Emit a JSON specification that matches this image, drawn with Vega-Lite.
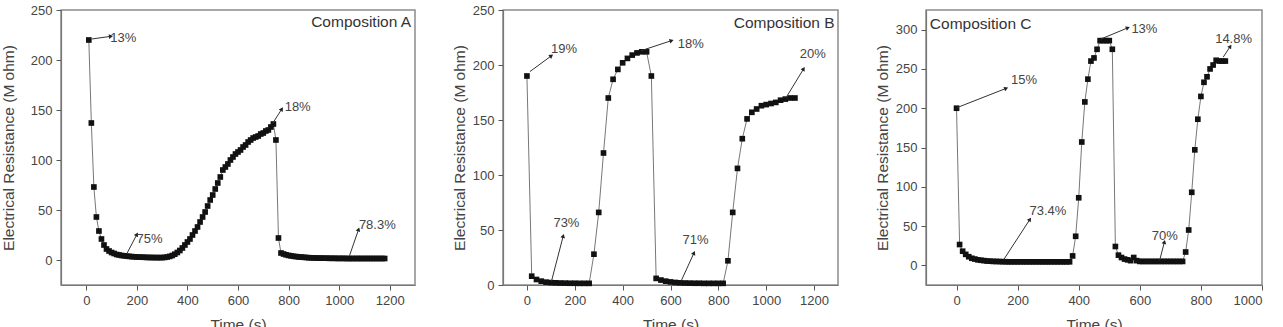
{
  "$schema": "https://vega.github.io/schema/vega-lite/v6.json",
  "padding": {"left": 0, "top": 3, "right": 0, "bottom": 0},
  "bounds": "flush",
  "spacing": 88,
  "config": {
    "font": "Liberation Sans",
    "view": {"stroke": "#8c8c8c", "strokeWidth": 1.5},
    "axis": {"domainColor": "#777", "domainWidth": 1.2, "tickColor": "#555", "tickWidth": 1, "labelColor": "#444", "titleColor": "#444", "labelFontSize": 13, "titleFontSize": 15.5, "titleFontWeight": "normal", "grid": false, "labelPadding": 4, "labelOverlap": false, "format": "d"}
  },
  "datasets": {
    "series": [
      {"p":"A","t":10,"r":220},{"p":"A","t":20,"r":137},{"p":"A","t":30,"r":73},{"p":"A","t":40,"r":43},{"p":"A","t":50,"r":29},{"p":"A","t":60,"r":21},{"p":"A","t":70,"r":15},{"p":"A","t":80,"r":11},{"p":"A","t":90,"r":9},{"p":"A","t":100,"r":7.5},
      {"p":"A","t":110,"r":6.5},{"p":"A","t":120,"r":5.5},{"p":"A","t":130,"r":5},{"p":"A","t":140,"r":4.5},{"p":"A","t":150,"r":4.2},{"p":"A","t":160,"r":3.9},{"p":"A","t":170,"r":3.6},{"p":"A","t":180,"r":3.4},{"p":"A","t":190,"r":3.2},{"p":"A","t":200,"r":3},
      {"p":"A","t":210,"r":2.9},{"p":"A","t":220,"r":2.8},{"p":"A","t":230,"r":2.7},{"p":"A","t":240,"r":2.6},{"p":"A","t":250,"r":2.5},{"p":"A","t":260,"r":2.5},{"p":"A","t":270,"r":2.4},{"p":"A","t":280,"r":2.4},{"p":"A","t":290,"r":2.4},{"p":"A","t":300,"r":2.4},
      {"p":"A","t":310,"r":2.6},{"p":"A","t":320,"r":3},{"p":"A","t":330,"r":3.6},{"p":"A","t":340,"r":4.5},{"p":"A","t":350,"r":5.8},{"p":"A","t":360,"r":7.5},{"p":"A","t":370,"r":9.5},{"p":"A","t":380,"r":12},{"p":"A","t":390,"r":15},{"p":"A","t":400,"r":18},
      {"p":"A","t":410,"r":21},{"p":"A","t":420,"r":25},{"p":"A","t":430,"r":29},{"p":"A","t":440,"r":33},{"p":"A","t":450,"r":38},{"p":"A","t":460,"r":43},{"p":"A","t":470,"r":48},{"p":"A","t":480,"r":54},{"p":"A","t":490,"r":60},{"p":"A","t":500,"r":65},
      {"p":"A","t":510,"r":71},{"p":"A","t":520,"r":77},{"p":"A","t":530,"r":83},{"p":"A","t":540,"r":90},{"p":"A","t":550,"r":93},{"p":"A","t":560,"r":96},{"p":"A","t":570,"r":100},{"p":"A","t":580,"r":103},{"p":"A","t":590,"r":106},{"p":"A","t":600,"r":108},
      {"p":"A","t":610,"r":110},{"p":"A","t":620,"r":113},{"p":"A","t":630,"r":115},{"p":"A","t":640,"r":118},{"p":"A","t":650,"r":120},{"p":"A","t":660,"r":122},{"p":"A","t":670,"r":123},{"p":"A","t":680,"r":124},{"p":"A","t":690,"r":126},{"p":"A","t":700,"r":127},
      {"p":"A","t":710,"r":129},{"p":"A","t":720,"r":130},{"p":"A","t":730,"r":133},{"p":"A","t":740,"r":136},{"p":"A","t":750,"r":120},{"p":"A","t":760,"r":22},{"p":"A","t":770,"r":7},{"p":"A","t":780,"r":6},{"p":"A","t":790,"r":5.2},{"p":"A","t":800,"r":4.6},
      {"p":"A","t":810,"r":4.1},{"p":"A","t":820,"r":3.7},{"p":"A","t":830,"r":3.4},{"p":"A","t":840,"r":3.1},{"p":"A","t":850,"r":2.9},{"p":"A","t":860,"r":2.7},{"p":"A","t":870,"r":2.5},{"p":"A","t":880,"r":2.3},{"p":"A","t":890,"r":2.2},{"p":"A","t":900,"r":2.1},
      {"p":"A","t":910,"r":2},{"p":"A","t":920,"r":1.9},{"p":"A","t":930,"r":1.9},{"p":"A","t":940,"r":1.8},{"p":"A","t":950,"r":1.8},{"p":"A","t":960,"r":1.7},{"p":"A","t":970,"r":1.7},{"p":"A","t":980,"r":1.7},{"p":"A","t":990,"r":1.6},{"p":"A","t":1000,"r":1.6},
      {"p":"A","t":1010,"r":1.6},{"p":"A","t":1020,"r":1.6},{"p":"A","t":1030,"r":1.5},{"p":"A","t":1040,"r":1.5},{"p":"A","t":1050,"r":1.5},{"p":"A","t":1060,"r":1.5},{"p":"A","t":1070,"r":1.5},{"p":"A","t":1080,"r":1.5},{"p":"A","t":1090,"r":1.5},{"p":"A","t":1100,"r":1.5},
      {"p":"A","t":1110,"r":1.5},{"p":"A","t":1120,"r":1.5},{"p":"A","t":1130,"r":1.5},{"p":"A","t":1140,"r":1.5},{"p":"A","t":1150,"r":1.5},{"p":"A","t":1160,"r":1.5},{"p":"A","t":1170,"r":1.5},{"p":"A","t":1180,"r":1.5},

      {"p":"B","t":0,"r":190},{"p":"B","t":20,"r":8},{"p":"B","t":40,"r":5},{"p":"B","t":60,"r":3.5},{"p":"B","t":80,"r":2.6},{"p":"B","t":100,"r":2.2},{"p":"B","t":120,"r":2},{"p":"B","t":140,"r":1.8},{"p":"B","t":160,"r":1.7},{"p":"B","t":180,"r":1.6},
      {"p":"B","t":200,"r":1.6},{"p":"B","t":220,"r":1.5},{"p":"B","t":240,"r":1.5},{"p":"B","t":260,"r":1.5},{"p":"B","t":280,"r":28},{"p":"B","t":300,"r":66},{"p":"B","t":320,"r":120},{"p":"B","t":340,"r":170},{"p":"B","t":360,"r":187},{"p":"B","t":380,"r":196},
      {"p":"B","t":400,"r":202},{"p":"B","t":420,"r":206},{"p":"B","t":440,"r":209},{"p":"B","t":460,"r":211},{"p":"B","t":480,"r":212},{"p":"B","t":500,"r":212},{"p":"B","t":520,"r":190},{"p":"B","t":540,"r":6},{"p":"B","t":560,"r":4.5},{"p":"B","t":580,"r":3.5},
      {"p":"B","t":600,"r":2.8},{"p":"B","t":620,"r":2.3},{"p":"B","t":640,"r":2},{"p":"B","t":660,"r":1.8},{"p":"B","t":680,"r":1.7},{"p":"B","t":700,"r":1.6},{"p":"B","t":720,"r":1.6},{"p":"B","t":740,"r":1.5},{"p":"B","t":760,"r":1.5},{"p":"B","t":780,"r":1.5},
      {"p":"B","t":800,"r":1.5},{"p":"B","t":820,"r":1.5},{"p":"B","t":840,"r":22},{"p":"B","t":860,"r":66},{"p":"B","t":880,"r":106},{"p":"B","t":900,"r":133},{"p":"B","t":920,"r":151},{"p":"B","t":940,"r":157},{"p":"B","t":960,"r":160},{"p":"B","t":980,"r":163},
      {"p":"B","t":1000,"r":164},{"p":"B","t":1020,"r":165},{"p":"B","t":1040,"r":166},{"p":"B","t":1060,"r":168},{"p":"B","t":1080,"r":169},{"p":"B","t":1100,"r":170},{"p":"B","t":1120,"r":170},

      {"p":"C","t":0,"r":200},{"p":"C","t":10,"r":26.5},{"p":"C","t":20,"r":18},{"p":"C","t":30,"r":14},{"p":"C","t":40,"r":11},{"p":"C","t":50,"r":9},{"p":"C","t":60,"r":8},{"p":"C","t":70,"r":7},{"p":"C","t":80,"r":6.5},{"p":"C","t":90,"r":6},
      {"p":"C","t":100,"r":5.5},{"p":"C","t":110,"r":5.3},{"p":"C","t":120,"r":5},{"p":"C","t":130,"r":5},{"p":"C","t":140,"r":4.8},{"p":"C","t":150,"r":4.7},{"p":"C","t":160,"r":4.6},{"p":"C","t":170,"r":4.5},{"p":"C","t":180,"r":4.5},{"p":"C","t":190,"r":4.5},
      {"p":"C","t":200,"r":4.5},{"p":"C","t":210,"r":4.5},{"p":"C","t":220,"r":4.5},{"p":"C","t":230,"r":4.5},{"p":"C","t":240,"r":4.5},{"p":"C","t":250,"r":4.5},{"p":"C","t":260,"r":4.5},{"p":"C","t":270,"r":4.5},{"p":"C","t":280,"r":4.5},{"p":"C","t":290,"r":4.5},
      {"p":"C","t":300,"r":4.5},{"p":"C","t":310,"r":4.5},{"p":"C","t":320,"r":4.5},{"p":"C","t":330,"r":4.5},{"p":"C","t":340,"r":4.5},{"p":"C","t":350,"r":4.5},{"p":"C","t":360,"r":4.5},{"p":"C","t":370,"r":4.5},{"p":"C","t":380,"r":12},{"p":"C","t":390,"r":37},
      {"p":"C","t":400,"r":86},{"p":"C","t":410,"r":157},{"p":"C","t":420,"r":208},{"p":"C","t":430,"r":237},{"p":"C","t":440,"r":260},{"p":"C","t":450,"r":264},{"p":"C","t":460,"r":275},{"p":"C","t":470,"r":286},{"p":"C","t":480,"r":286},{"p":"C","t":490,"r":286},
      {"p":"C","t":500,"r":286},{"p":"C","t":510,"r":275},{"p":"C","t":520,"r":24},{"p":"C","t":530,"r":13},{"p":"C","t":540,"r":10},{"p":"C","t":550,"r":8},{"p":"C","t":560,"r":7},{"p":"C","t":570,"r":6},{"p":"C","t":580,"r":10},{"p":"C","t":590,"r":6},
      {"p":"C","t":600,"r":5},{"p":"C","t":610,"r":5},{"p":"C","t":620,"r":5},{"p":"C","t":630,"r":5},{"p":"C","t":640,"r":5},{"p":"C","t":650,"r":5},{"p":"C","t":660,"r":5},{"p":"C","t":670,"r":5},{"p":"C","t":680,"r":5},{"p":"C","t":690,"r":5},
      {"p":"C","t":700,"r":5},{"p":"C","t":710,"r":5},{"p":"C","t":720,"r":5},{"p":"C","t":730,"r":5},{"p":"C","t":740,"r":5},{"p":"C","t":750,"r":17},{"p":"C","t":760,"r":45},{"p":"C","t":770,"r":93},{"p":"C","t":780,"r":147},{"p":"C","t":790,"r":186},
      {"p":"C","t":800,"r":215},{"p":"C","t":810,"r":233},{"p":"C","t":820,"r":240},{"p":"C","t":830,"r":250},{"p":"C","t":840,"r":255},{"p":"C","t":850,"r":261},{"p":"C","t":860,"r":260},{"p":"C","t":870,"r":260},{"p":"C","t":880,"r":260}
    ],
    "notes": [
      {"p":"A","t":22,"r":221,"t2":95,"r2":223.6,"lt":146,"lr":222.5,"label":"13%"},
      {"p":"A","t":161,"r":6.7,"t2":199,"r2":25,"lt":250,"lr":21,"label":"75%"},
      {"p":"A","t":738,"r":137,"t2":772,"r2":150.5,"lt":836,"lr":153,"label":"18%"},
      {"p":"A","t":1041,"r":4.3,"t2":1076,"r2":30,"lt":1151,"lr":35,"label":"78.3%"},
      {"p":"B","t":12.5,"r":194,"t2":100,"r2":208,"lt":155.5,"lr":214.7,"label":"19%"},
      {"p":"B","t":477,"r":213,"t2":602,"r2":222,"lt":685,"lr":219,"label":"18%"},
      {"p":"B","t":102.6,"r":3.4,"t2":151,"r2":44,"lt":165,"lr":56,"label":"73%"},
      {"p":"B","t":644,"r":3.4,"t2":697,"r2":28.6,"lt":705,"lr":40.8,"label":"71%"},
      {"p":"B","t":1082,"r":170,"t2":1155,"r2":196,"lt":1195,"lr":209.6,"label":"20%"},
      {"p":"C","t":0,"r":200.5,"t2":160.6,"r2":225,"lt":221,"lr":235.6,"label":"15%"},
      {"p":"C","t":155,"r":7.7,"t2":239,"r2":57.8,"lt":299,"lr":69.4,"label":"73.4%"},
      {"p":"C","t":472,"r":288,"t2":559,"r2":302,"lt":615,"lr":300.8,"label":"13%"},
      {"p":"C","t":665,"r":6.4,"t2":680,"r2":29,"lt":682,"lr":37.3,"label":"70%"},
      {"p":"C","t":873,"r":265,"t2":895,"r2":278,"lt":907,"lr":288,"label":"14.8%"}
    ],
    "names": [
      {"p":"A","t":1087,"r":237.7,"label":"Composition A"},
      {"p":"B","t":1075,"r":238.4,"label":"Composition B"},
      {"p":"C","t":79,"r":307.6,"label":"Composition C"}
    ]
  },
  "hconcat": [
    {
      "width": 354, "height": 275,
      "layer": [
        {"data": {"name": "series"}, "transform": [{"filter": "datum.p === 'A'"}],
         "mark": {"type": "line", "color": "#777", "strokeWidth": 1},
         "encoding": {
           "x": {"field": "t", "type": "quantitative", "title": "Time (s)", "scale": {"domain": [-100, 1300], "nice": false, "zero": false},
                 "axis": {"values": [0,100,200,300,400,500,600,700,800,900,1000,1100,1200], "labelExpr": "datum.value % 200 === 0 ? datum.label : ''", "tickSize": {"condition": {"test": "datum.value % 200 === 0", "value": 5}, "value": 3}, "titlePadding": 10}},
           "y": {"field": "r", "type": "quantitative", "title": "Electrical Resistance (M ohm)", "scale": {"domain": [-25, 250], "nice": false, "zero": false},
                 "axis": {"values": [0,25,50,75,100,125,150,175,200,225,250], "labelExpr": "datum.value % 50 === 0 ? datum.label : ''", "tickSize": {"condition": {"test": "datum.value % 50 === 0", "value": 5}, "value": 3}, "titlePadding": 14}}
         }},
        {"data": {"name": "series"}, "transform": [{"filter": "datum.p === 'A'"}],
         "mark": {"type": "point", "shape": "square", "filled": true, "color": "#111", "size": 32, "opacity": 1},
         "encoding": {
           "x": {"field": "t", "type": "quantitative", "title": "Time (s)", "scale": {"domain": [-100, 1300], "nice": false, "zero": false}},
           "y": {"field": "r", "type": "quantitative", "title": "Electrical Resistance (M ohm)", "scale": {"domain": [-25, 250], "nice": false, "zero": false}}
         }},
        {"data": {"name": "notes"}, "transform": [{"filter": "datum.p === 'A'"}],
         "mark": {"type": "rule", "color": "#333", "strokeWidth": 1},
         "encoding": {
           "x": {"field": "t", "type": "quantitative", "title": "Time (s)", "scale": {"domain": [-100, 1300], "nice": false, "zero": false}},
           "y": {"field": "r", "type": "quantitative", "title": "Electrical Resistance (M ohm)", "scale": {"domain": [-25, 250], "nice": false, "zero": false}},
           "x2": {"field": "t2"}, "y2": {"field": "r2"}
         }},
        {"data": {"name": "notes"}, "transform": [{"filter": "datum.p === 'A'"}, {"calculate": "atan2((datum.t2 - datum.t) * 0.2514, (datum.r2 - datum.r) * 0.99) * 180 / PI", "as": "ang"}],
         "mark": {"type": "point", "shape": "triangle", "filled": true, "color": "#222", "size": 22, "opacity": 1},
         "encoding": {
           "x": {"field": "t2", "type": "quantitative", "title": "Time (s)", "scale": {"domain": [-100, 1300], "nice": false, "zero": false}},
           "y": {"field": "r2", "type": "quantitative", "title": "Electrical Resistance (M ohm)", "scale": {"domain": [-25, 250], "nice": false, "zero": false}},
           "angle": {"field": "ang", "type": "quantitative", "scale": null}
         }},
        {"data": {"name": "notes"}, "transform": [{"filter": "datum.p === 'A'"}],
         "mark": {"type": "text", "fontSize": 13, "color": "#444", "baseline": "middle", "align": "center"},
         "encoding": {
           "x": {"field": "lt", "type": "quantitative", "title": "Time (s)", "scale": {"domain": [-100, 1300], "nice": false, "zero": false}},
           "y": {"field": "lr", "type": "quantitative", "title": "Electrical Resistance (M ohm)", "scale": {"domain": [-25, 250], "nice": false, "zero": false}},
           "text": {"field": "label"}
         }},
        {"data": {"name": "names"}, "transform": [{"filter": "datum.p === 'A'"}],
         "mark": {"type": "text", "fontSize": 15.5, "color": "#333", "baseline": "middle", "align": "center"},
         "encoding": {
           "x": {"field": "t", "type": "quantitative", "title": "Time (s)", "scale": {"domain": [-100, 1300], "nice": false, "zero": false}},
           "y": {"field": "r", "type": "quantitative", "title": "Electrical Resistance (M ohm)", "scale": {"domain": [-25, 250], "nice": false, "zero": false}},
           "text": {"field": "label"}
         }}
      ]
    },
    {
      "width": 335, "height": 275,
      "layer": [
        {"data": {"name": "series"}, "transform": [{"filter": "datum.p === 'B'"}],
         "mark": {"type": "line", "color": "#777", "strokeWidth": 1},
         "encoding": {
           "x": {"field": "t", "type": "quantitative", "title": "Time (s)", "scale": {"domain": [-100, 1300], "nice": false, "zero": false},
                 "axis": {"values": [0,100,200,300,400,500,600,700,800,900,1000,1100,1200], "labelExpr": "datum.value % 200 === 0 ? datum.label : ''", "tickSize": {"condition": {"test": "datum.value % 200 === 0", "value": 5}, "value": 3}, "titlePadding": 10}},
           "y": {"field": "r", "type": "quantitative", "title": "Electrical Resistance (M ohm)", "scale": {"domain": [0, 250], "nice": false, "zero": false},
                 "axis": {"values": [0,25,50,75,100,125,150,175,200,225,250], "labelExpr": "datum.value % 50 === 0 ? datum.label : ''", "tickSize": {"condition": {"test": "datum.value % 50 === 0", "value": 5}, "value": 3}, "titlePadding": 5}}
         }},
        {"data": {"name": "series"}, "transform": [{"filter": "datum.p === 'B'"}],
         "mark": {"type": "point", "shape": "square", "filled": true, "color": "#111", "size": 32, "opacity": 1},
         "encoding": {
           "x": {"field": "t", "type": "quantitative", "title": "Time (s)", "scale": {"domain": [-100, 1300], "nice": false, "zero": false}},
           "y": {"field": "r", "type": "quantitative", "title": "Electrical Resistance (M ohm)", "scale": {"domain": [0, 250], "nice": false, "zero": false}}
         }},
        {"data": {"name": "notes"}, "transform": [{"filter": "datum.p === 'B'"}],
         "mark": {"type": "rule", "color": "#333", "strokeWidth": 1},
         "encoding": {
           "x": {"field": "t", "type": "quantitative", "title": "Time (s)", "scale": {"domain": [-100, 1300], "nice": false, "zero": false}},
           "y": {"field": "r", "type": "quantitative", "title": "Electrical Resistance (M ohm)", "scale": {"domain": [0, 250], "nice": false, "zero": false}},
           "x2": {"field": "t2"}, "y2": {"field": "r2"}
         }},
        {"data": {"name": "notes"}, "transform": [{"filter": "datum.p === 'B'"}, {"calculate": "atan2((datum.t2 - datum.t) * 0.24, (datum.r2 - datum.r) * 1.096) * 180 / PI", "as": "ang"}],
         "mark": {"type": "point", "shape": "triangle", "filled": true, "color": "#222", "size": 22, "opacity": 1},
         "encoding": {
           "x": {"field": "t2", "type": "quantitative", "title": "Time (s)", "scale": {"domain": [-100, 1300], "nice": false, "zero": false}},
           "y": {"field": "r2", "type": "quantitative", "title": "Electrical Resistance (M ohm)", "scale": {"domain": [0, 250], "nice": false, "zero": false}},
           "angle": {"field": "ang", "type": "quantitative", "scale": null}
         }},
        {"data": {"name": "notes"}, "transform": [{"filter": "datum.p === 'B'"}],
         "mark": {"type": "text", "fontSize": 13, "color": "#444", "baseline": "middle", "align": "center"},
         "encoding": {
           "x": {"field": "lt", "type": "quantitative", "title": "Time (s)", "scale": {"domain": [-100, 1300], "nice": false, "zero": false}},
           "y": {"field": "lr", "type": "quantitative", "title": "Electrical Resistance (M ohm)", "scale": {"domain": [0, 250], "nice": false, "zero": false}},
           "text": {"field": "label"}
         }},
        {"data": {"name": "names"}, "transform": [{"filter": "datum.p === 'B'"}],
         "mark": {"type": "text", "fontSize": 15.5, "color": "#333", "baseline": "middle", "align": "center"},
         "encoding": {
           "x": {"field": "t", "type": "quantitative", "title": "Time (s)", "scale": {"domain": [-100, 1300], "nice": false, "zero": false}},
           "y": {"field": "r", "type": "quantitative", "title": "Electrical Resistance (M ohm)", "scale": {"domain": [0, 250], "nice": false, "zero": false}},
           "text": {"field": "label"}
         }}
      ]
    },
    {
      "width": 336, "height": 275,
      "layer": [
        {"data": {"name": "series"}, "transform": [{"filter": "datum.p === 'C'"}],
         "mark": {"type": "line", "color": "#777", "strokeWidth": 1},
         "encoding": {
           "x": {"field": "t", "type": "quantitative", "title": "Time (s)", "scale": {"domain": [-100, 1000], "nice": false, "zero": false},
                 "axis": {"values": [0,100,200,300,400,500,600,700,800,900,1000], "labelExpr": "datum.value % 200 === 0 ? datum.label : ''", "tickSize": {"condition": {"test": "datum.value % 200 === 0", "value": 5}, "value": 3}, "titlePadding": 10}},
           "y": {"field": "r", "type": "quantitative", "title": "Electrical Resistance (M ohm)", "scale": {"domain": [-25, 325], "nice": false, "zero": false},
                 "axis": {"values": [0,25,50,75,100,125,150,175,200,225,250,275,300,325], "labelExpr": "datum.value % 50 === 0 ? datum.label : ''", "tickSize": {"condition": {"test": "datum.value % 50 === 0", "value": 5}, "value": 3}, "titlePadding": 5}}
         }},
        {"data": {"name": "series"}, "transform": [{"filter": "datum.p === 'C'"}],
         "mark": {"type": "point", "shape": "square", "filled": true, "color": "#111", "size": 32, "opacity": 1},
         "encoding": {
           "x": {"field": "t", "type": "quantitative", "title": "Time (s)", "scale": {"domain": [-100, 1000], "nice": false, "zero": false}},
           "y": {"field": "r", "type": "quantitative", "title": "Electrical Resistance (M ohm)", "scale": {"domain": [-25, 325], "nice": false, "zero": false}}
         }},
        {"data": {"name": "notes"}, "transform": [{"filter": "datum.p === 'C'"}],
         "mark": {"type": "rule", "color": "#333", "strokeWidth": 1},
         "encoding": {
           "x": {"field": "t", "type": "quantitative", "title": "Time (s)", "scale": {"domain": [-100, 1000], "nice": false, "zero": false}},
           "y": {"field": "r", "type": "quantitative", "title": "Electrical Resistance (M ohm)", "scale": {"domain": [-25, 325], "nice": false, "zero": false}},
           "x2": {"field": "t2"}, "y2": {"field": "r2"}
         }},
        {"data": {"name": "notes"}, "transform": [{"filter": "datum.p === 'C'"}, {"calculate": "atan2((datum.t2 - datum.t) * 0.305, (datum.r2 - datum.r) * 0.778) * 180 / PI", "as": "ang"}],
         "mark": {"type": "point", "shape": "triangle", "filled": true, "color": "#222", "size": 22, "opacity": 1},
         "encoding": {
           "x": {"field": "t2", "type": "quantitative", "title": "Time (s)", "scale": {"domain": [-100, 1000], "nice": false, "zero": false}},
           "y": {"field": "r2", "type": "quantitative", "title": "Electrical Resistance (M ohm)", "scale": {"domain": [-25, 325], "nice": false, "zero": false}},
           "angle": {"field": "ang", "type": "quantitative", "scale": null}
         }},
        {"data": {"name": "notes"}, "transform": [{"filter": "datum.p === 'C'"}],
         "mark": {"type": "text", "fontSize": 13, "color": "#444", "baseline": "middle", "align": "center"},
         "encoding": {
           "x": {"field": "lt", "type": "quantitative", "title": "Time (s)", "scale": {"domain": [-100, 1000], "nice": false, "zero": false}},
           "y": {"field": "lr", "type": "quantitative", "title": "Electrical Resistance (M ohm)", "scale": {"domain": [-25, 325], "nice": false, "zero": false}},
           "text": {"field": "label"}
         }},
        {"data": {"name": "names"}, "transform": [{"filter": "datum.p === 'C'"}],
         "mark": {"type": "text", "fontSize": 15.5, "color": "#333", "baseline": "middle", "align": "center"},
         "encoding": {
           "x": {"field": "t", "type": "quantitative", "title": "Time (s)", "scale": {"domain": [-100, 1000], "nice": false, "zero": false}},
           "y": {"field": "r", "type": "quantitative", "title": "Electrical Resistance (M ohm)", "scale": {"domain": [-25, 325], "nice": false, "zero": false}},
           "text": {"field": "label"}
         }}
      ]
    }
  ]
}
